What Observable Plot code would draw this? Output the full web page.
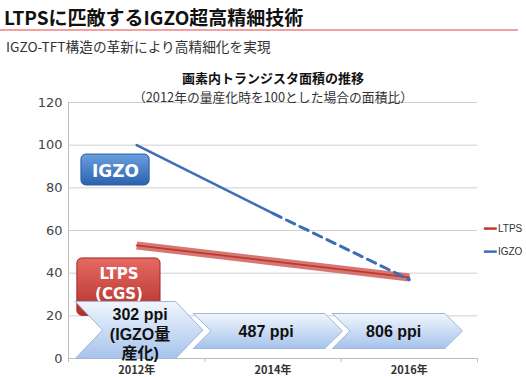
<!DOCTYPE html>
<html><head><meta charset="utf-8">
<script src="https://cdn.jsdelivr.net/npm/d3@7"></script>
<script src="https://cdn.jsdelivr.net/npm/@observablehq/plot@0.6"></script>
<style>
body{margin:0;background:#fff;width:526px;height:377px;overflow:hidden;font-family:"Noto Sans CJK JP",sans-serif;}
#head{position:relative;height:60px;}
#title{position:absolute;left:4px;top:3px;font-size:19px;font-weight:bold;line-height:27px;color:#111;white-space:nowrap;}
#rule{position:absolute;left:0;top:29px;width:518px;height:2px;background:#f2a0a0;}
#sub{position:absolute;left:6px;top:37px;font-size:13.7px;line-height:18px;color:#333;white-space:nowrap;}
#chart svg{display:block;}
</style></head><body>
<div id="head"><div id="title">LTPSに匹敵するIGZO超高精細技術</div><div id="rule"></div><div id="sub">IGZO-TFT構造の革新により高精細化を実現</div></div>
<div id="chart"></div>
<script>
// ---- data ----
const years = [2012, 2014, 2016];
const yearLabels = ["2012年", "2014年", "2016年"];
const ltpsValues = [53, 45.5, 38];
const igzoValues = [100, 68, 37];
const yTicks = [0, 20, 40, 60, 80, 100, 120];
const seriesNames = ["LTPS", "IGZO"];
const stageLabels = ["302 ppi\n(IGZO量\n産化)", "487 ppi", "806 ppi"];
const boxLabels = ["IGZO", "LTPS\n(CGS)"];
const chartTitle = "画素内トランジスタ面積の推移";
const chartSubtitle = "（2012年の量産化時を100とした場合の面積比）";

const ltps = years.map((x, i) => ({x, y: ltpsValues[i]}));
const igzo = years.map((x, i) => ({x, y: igzoValues[i]}));

// ---- annotation geometry (in data units) ----
const stageGeom = [
  {x0: 2011.1, x1: 2012.97, d: 0.4, y0: 0, y1: 26.7, tx: 2012.05, ty: 11.8},
  {x0: 2012.83, x1: 2015.02, d: 0.26, y0: 4.7, y1: 21.1, tx: 2013.9, ty: 12.9},
  {x0: 2014.87, x1: 2016.78, d: 0.26, y0: 4.7, y1: 21.1, tx: 2015.77, ty: 12.9}
];
const stagePolys = [];
[2, 1, 0].forEach(i => {
  const g = stageGeom[i], ym = (g.y0 + g.y1) / 2;
  [[g.x0, g.y1], [g.x1 - g.d, g.y1], [g.x1, ym], [g.x1 - g.d, g.y0], [g.x0, g.y0], [g.x0 + g.d, ym], [g.x0, g.y1]]
    .forEach(([x, y]) => stagePolys.push({s: i, x, y}));
});
const stageText = stageGeom.map((g, i) => ({x: g.tx, y: g.ty, label: stageLabels[i]}));
const boxes = [
  {x1: 2011.19, x2: 2012.19, y1: 81.1, y2: 95.6, fill: "url(#blueBox)", stroke: "#2a5a9e"},
  {x1: 2011.13, x2: 2012.35, y1: 20, y2: 46.9, fill: "url(#redBox)", stroke: "#a02a26"}
];
const boxText = [
  {x: 2011.69, y: 88.4, label: boxLabels[0], fs: 17},
  {x: 2011.74, y: 35.4, label: boxLabels[1], fs: 15}
];
const legend = [
  {name: seriesNames[0], y: 60.9, color: "#c0392b"},
  {name: seriesNames[1], y: 50.1, color: "#3d6eb5"}
];

const defs = () => {
  const g = d3.create("svg:defs");
  const mk = (id, c0, c1) => {
    const lg = g.append("linearGradient").attr("id", id).attr("x1", 0).attr("y1", 0).attr("x2", 0).attr("y2", 1);
    lg.append("stop").attr("offset", "0%").attr("stop-color", c0);
    lg.append("stop").attr("offset", "100%").attr("stop-color", c1);
  };
  mk("chev", "#f1f6fd", "#a6c3ec");
  mk("blueBox", "#6a9fe0", "#2b62b0");
  mk("redBox", "#e56a62", "#b3302b");
  return g.node();
};

const latin = "Liberation Sans, Noto Sans CJK JP, sans-serif";
const cjk = "Noto Sans CJK JP, sans-serif";

const chart = Plot.plot({
  width: 526,
  height: 317,
  marginLeft: 68,
  marginRight: 49,
  marginTop: 42,
  marginBottom: 19,
  style: {fontFamily: latin, color: "#333", background: "#fff", overflow: "visible"},
  x: {domain: [2011, 2017]},
  y: {domain: [0, 120]},
  marks: [
    defs,
    Plot.gridY(yTicks, {stroke: "#cfcfcf", strokeOpacity: 1}),
    Plot.ruleX([2011], {stroke: "#bdbdbd"}),
    Plot.ruleY([0], {stroke: "#bdbdbd"}),
    Plot.axisY({ticks: yTicks, tickSize: 0, tickPadding: 6, fontSize: 13, fontFamily: "DejaVu Sans, sans-serif", fill: "#444", label: null}),
    Plot.axisX({ticks: [2011, 2013, 2015, 2017], tickSize: 4, stroke: "#bdbdbd", tickFormat: () => "", label: null}),
    Plot.axisX({ticks: years, tickSize: 0, tickPadding: 8, tickFormat: d => yearLabels[years.indexOf(d)], fontSize: 11, fontWeight: "bold", fontFamily: cjk, fill: "#333", label: null}),
    Plot.line(ltps, {x: "x", y: "y", stroke: "#d06964", strokeWidth: 8, strokeOpacity: 0.9, strokeLinecap: "butt"}),
    Plot.line(ltps, {x: "x", y: "y", stroke: "#c0392b", strokeWidth: 1.8}),
    Plot.line(igzo.slice(0, 2), {x: "x", y: "y", stroke: "#3d6eb5", strokeWidth: 2.5}),
    Plot.line(igzo.slice(1), {x: "x", y: "y", stroke: "#3d6eb5", strokeWidth: 3, strokeDasharray: "9,6"}),
    Plot.rect(boxes, {x1: "x1", x2: "x2", y1: "y1", y2: "y2", fill: d => d.fill, stroke: d => d.stroke, rx: 5}),
    Plot.text(boxText, {x: "x", y: "y", text: "label", fill: "#fff", fontWeight: "bold", fontFamily: "DejaVu Sans, sans-serif", fontSize: d => d.fs, lineHeight: 1.3}),
    Plot.line(stagePolys, {x: "x", y: "y", z: "s", fill: "url(#chev)", stroke: "#9fb6d8", strokeWidth: 1}),
    Plot.text(stageText, {x: "x", y: "y", text: "label", fill: "#111", fontWeight: "bold", fontSize: 16, lineHeight: 1.22, fontFamily: latin}),
    Plot.ruleY(legend, {y: "y", x1: 2017.1, x2: 2017.29, stroke: "color", strokeWidth: 2.5}),
    Plot.text(legend, {x: 2017.3, y: "y", text: "name", textAnchor: "start", fontSize: 10, fill: "#333", fontFamily: latin}),
    Plot.text([chartTitle], {frameAnchor: "top", dy: -29, fontSize: 13, fontWeight: "bold", fontFamily: cjk, fill: "#111"}),
    Plot.text([chartSubtitle], {frameAnchor: "top", dy: -10, fontSize: 12.8, fontFamily: cjk, fill: "#333"})
  ]
});
document.getElementById("chart").appendChild(chart);
</script>
</body></html>
